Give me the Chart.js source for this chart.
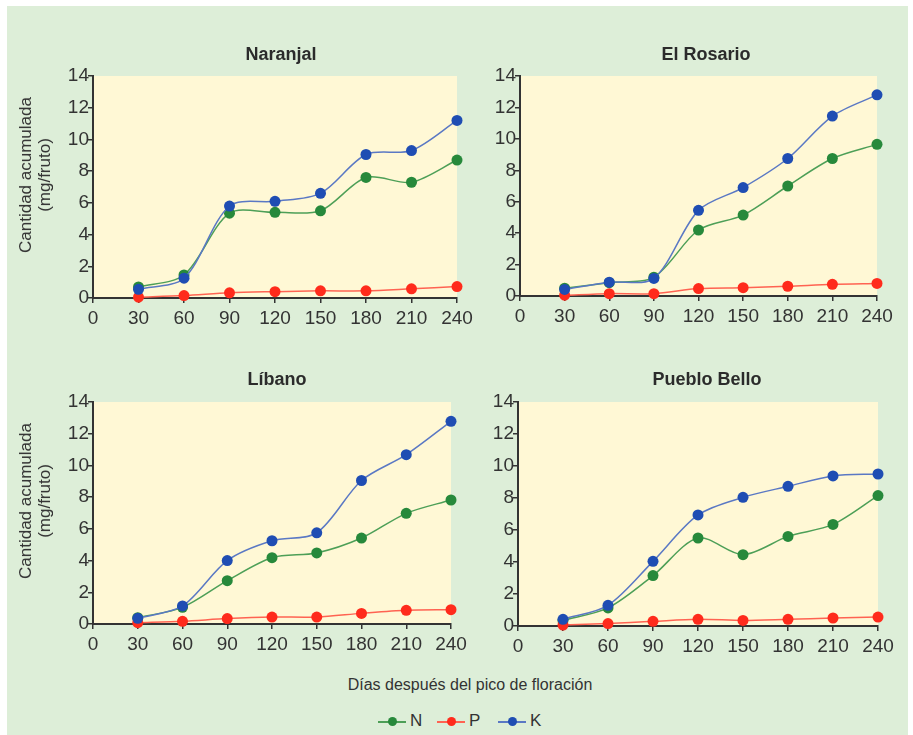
<!DOCTYPE html>
<html>
<head>
<meta charset="utf-8">
<script src="https://cdn.jsdelivr.net/npm/chart.js@4.4.1/dist/chart.umd.min.js"></script>
<style>
  body { margin: 0; background: #fff; font-family: "Liberation Sans", Arial, sans-serif; }
  #panel { position: absolute; left: 7px; top: 6px; width: 901px; height: 729px; background: #ddeed8; }
  canvas { position: absolute; }
  .title { position: absolute; font-weight: bold; font-size: 18px; color: #2b2b2b; transform: translate(-50%, -50%); white-space: nowrap; }
  .ytitle { position: absolute; font-size: 17px; line-height: 19px; color: #333; text-align: center;
            transform: translate(-50%, -50%) rotate(-90deg); white-space: nowrap; }
  #xtitle { position: absolute; left: 470px; top: 685px; font-size: 16px; color: #333; transform: translate(-50%, -50%); white-space: nowrap; }
  .legend-item { position: absolute; top: 711px; height: 20px; font-size: 17px; color: #333; line-height: 20px; }
  .legend-item .ln { position: absolute; left: 0; top: 10px; width: 28px; height: 1.5px; }
  .legend-item .dot { position: absolute; left: 10px; top: 6px; width: 9px; height: 9px; border-radius: 50%; }
  .legend-item .lbl { position: absolute; left: 32px; top: 0; }
</style>
</head>
<body>
<div id="panel"></div>
<div id="root"></div>
<div id="xtitle">Días después del pico de floración</div>
<script>
// days after flowering peak
const days = [30, 60, 90, 120, 150, 180, 210, 240];
const xTickValues = [0, 30, 60, 90, 120, 150, 180, 210, 240];
const yTickValues = [0, 2, 4, 6, 8, 10, 12, 14];

const siteNames = ["Naranjal", "El Rosario", "Líbano", "Pueblo Bello"];
const seriesNames = ["N", "P", "K"];

const naranjalN = [0.7, 1.45, 5.35, 5.4, 5.5, 7.6, 7.3, 8.7];
const naranjalP = [0.05, 0.15, 0.33, 0.4, 0.45, 0.45, 0.58, 0.72];
const naranjalK = [0.55, 1.25, 5.8, 6.1, 6.6, 9.05, 9.3, 11.2];

const rosarioN = [0.5, 0.85, 1.2, 4.2, 5.15, 7.0, 8.75, 9.65];
const rosarioP = [0.05, 0.15, 0.15, 0.47, 0.53, 0.62, 0.74, 0.8];
const rosarioK = [0.42, 0.88, 1.12, 5.45, 6.9, 8.75, 11.45, 12.8];

const libanoN = [0.4, 1.05, 2.73, 4.18, 4.48, 5.42, 6.98, 7.82];
const libanoP = [0.08, 0.17, 0.34, 0.44, 0.44, 0.67, 0.86, 0.9];
const libanoK = [0.36, 1.14, 4.0, 5.25, 5.75, 9.05, 10.68, 12.78];

const puebloN = [0.35, 1.13, 3.15, 5.5, 4.46, 5.6, 6.35, 8.15];
const puebloP = [0.06, 0.15, 0.29, 0.42, 0.35, 0.42, 0.5, 0.56];
const puebloK = [0.42, 1.29, 4.04, 6.94, 8.04, 8.73, 9.38, 9.5];

const siteSeries = [
  [naranjalN, naranjalP, naranjalK],
  [rosarioN, rosarioP, rosarioK],
  [libanoN, libanoP, libanoK],
  [puebloN, puebloP, puebloK],
];

// colours: dot, line
const DOT_COLORS = ["#27893b", "#ff2b1c", "#1f4db3"];
const LINE_COLORS = ["#4d9f57", "#ff6352", "#5a78c4"];
const DRAW_ORDER = [2, 1, 0]; // K on top

// canvas box and plot area (page pixels) for each panel
const PANELS = [
  { box: { x: 0, y: 56, w: 485, h: 280 }, plot: { l: 93, r: 457, t: 76, b: 298 }, title: [281, 54], ytitle: [35, 175] },
  { box: { x: 460, y: 56, w: 445, h: 280 }, plot: { l: 520, r: 877, t: 76, b: 296 }, title: [706, 54], ytitle: null },
  { box: { x: 0, y: 382, w: 485, h: 280 }, plot: { l: 93, r: 451, t: 402, b: 624 }, title: [277, 379], ytitle: [35, 501] },
  { box: { x: 460, y: 382, w: 445, h: 280 }, plot: { l: 518, r: 878, t: 402, b: 626 }, title: [707, 379], ytitle: null },
];

const AXIS_COLOR = "#333";
const TICK_FONT = { family: "'Liberation Sans', Arial, sans-serif", size: 19 };

const plotBackground = {
  id: "plotBackground",
  beforeDraw(chart) {
    const { ctx, chartArea: a } = chart;
    ctx.save();
    ctx.fillStyle = "#fff8d5";
    ctx.fillRect(a.left, a.top, a.right - a.left, a.bottom - a.top);
    ctx.restore();
  },
};

const root = document.getElementById("root");

function addText(cls, text, pos) {
  const el = document.createElement("div");
  el.className = cls;
  el.innerHTML = text;
  el.style.left = pos[0] + "px";
  el.style.top = pos[1] + "px";
  root.appendChild(el);
}

function makeChart(idx) {
  const p = PANELS[idx];
  const canvas = document.createElement("canvas");
  canvas.width = p.box.w;
  canvas.height = p.box.h;
  canvas.style.left = p.box.x + "px";
  canvas.style.top = p.box.y + "px";
  root.appendChild(canvas);

  const yWidth = p.plot.l - p.box.x;
  const xHeight = p.box.y + p.box.h - p.plot.b;

  const datasets = seriesNames.map((name, s) => ({
    label: name,
    data: days.map((d, i) => ({ x: d, y: siteSeries[idx][s][i] })),
    borderColor: LINE_COLORS[s],
    backgroundColor: DOT_COLORS[s],
    pointBackgroundColor: DOT_COLORS[s],
    pointBorderColor: DOT_COLORS[s],
    pointRadius: 5.5,
    pointBorderWidth: 0,
    borderWidth: 1.5,
    tension: 0.3,
    order: DRAW_ORDER[s],
    clip: false,
  }));

  new Chart(canvas, {
    type: "line",
    data: { datasets },
    options: {
      responsive: false,
      animation: false,
      layout: {
        autoPadding: false,
        padding: { top: p.plot.t - p.box.y, right: p.box.x + p.box.w - p.plot.r, bottom: 0, left: 0 },
      },
      plugins: { legend: { display: false }, tooltip: { enabled: false } },
      scales: {
        x: {
          type: "linear",
          min: 0,
          max: 240,
          afterBuildTicks: (scale) => { scale.ticks = xTickValues.map((v) => ({ value: v })); },
          afterFit: (scale) => { scale.height = xHeight; },
          border: { color: AXIS_COLOR, width: 2 },
          grid: { drawOnChartArea: false, color: AXIS_COLOR, lineWidth: 1.5, tickLength: 5 },
          ticks: { color: AXIS_COLOR, font: TICK_FONT, padding: 4, maxRotation: 0 },
        },
        y: {
          min: 0,
          max: 14,
          afterBuildTicks: (scale) => { scale.ticks = yTickValues.map((v) => ({ value: v })); },
          afterFit: (scale) => { scale.width = yWidth; },
          border: { color: AXIS_COLOR, width: 2 },
          grid: { drawOnChartArea: false, color: AXIS_COLOR, lineWidth: 1.5, tickLength: 5 },
          ticks: { color: AXIS_COLOR, font: TICK_FONT, padding: -1 },
        },
      },
    },
    plugins: [plotBackground],
  });

  addText("title", siteNames[idx], p.title);
  if (p.ytitle) addText("ytitle", "Cantidad acumulada<br>(mg/fruto)", p.ytitle);
}

PANELS.forEach((p, i) => makeChart(i));

// shared legend
const legendX = [378, 437, 498];
seriesNames.forEach((name, s) => {
  const item = document.createElement("div");
  item.className = "legend-item";
  item.style.left = legendX[s] + "px";
  item.innerHTML =
    `<span class="ln" style="background:${LINE_COLORS[s]}"></span>` +
    `<span class="dot" style="background:${DOT_COLORS[s]}"></span>` +
    `<span class="lbl">${name}</span>`;
  root.appendChild(item);
});
</script>
</body>
</html>
